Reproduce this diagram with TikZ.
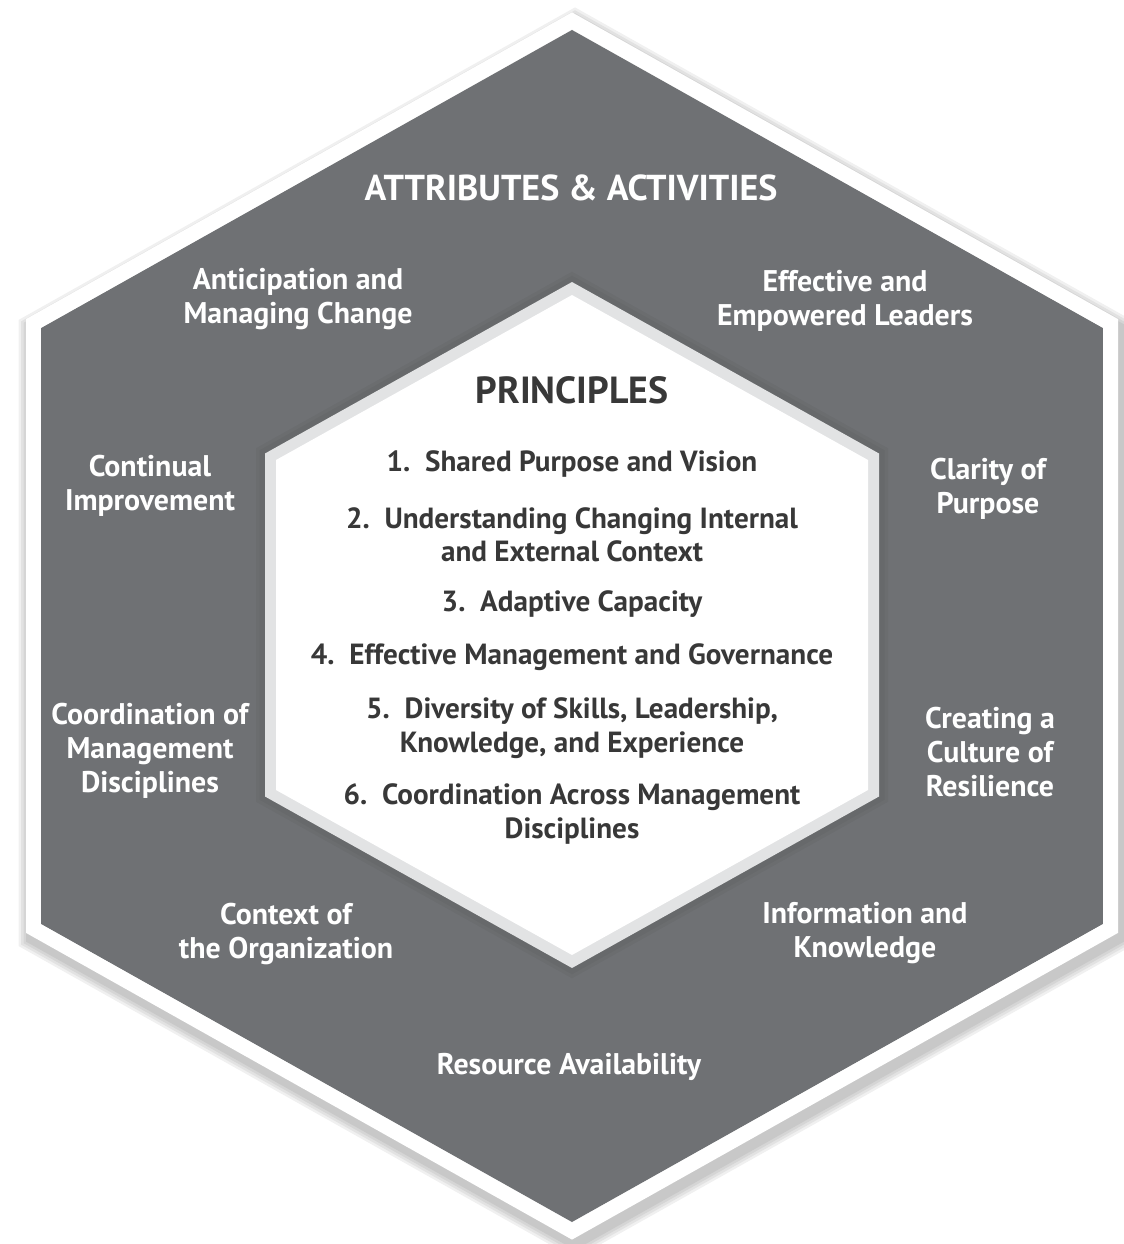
\documentclass[tikz,border=0pt]{standalone}
\usepackage{fontspec}
\setmainfont{PT Sans}

\definecolor{hexgrey}{HTML}{6F7174}
\definecolor{rimgrey}{HTML}{E2E3E4}
\definecolor{inktext}{HTML}{383838}

% hexagon with pointy top, centred on x=572: {centre y}{radius}{half width}
\newcommand{\hexpath}[3]{(572,{#1-#2}) -- ({572+#3},{#1-#2/2}) -- ({572+#3},{#1+#2/2})
  -- (572,{#1+#2}) -- ({572-#3},{#1+#2/2}) -- ({572-#3},{#1-#2/2}) -- cycle}

\tikzset{
    attr/.style={text=white, align=center,
        font=\bfseries\fontsize{17}{19.3}\selectfont},
    princ/.style={text=inktext, align=center,
        font=\bfseries\fontsize{16.6}{19}\selectfont},
    heading/.style={align=center, font=\bfseries\fontsize{20.5}{24}\selectfont}
}

\begin{document}
\begin{tikzpicture}[x=0.02cm, y=-0.02cm]
  \useasboundingbox (0,0) rectangle (1124,1244);

  % frame and its shadow
  \foreach \w in {0.72cm,0.62cm,0.52cm,0.42cm}
    \draw[black, opacity=0.06, line width=\w, line join=miter, shift={(3,7)}]
      \hexpath{626}{605}{538.5};
  \fill[hexgrey] \hexpath{626}{596}{531};
  \draw[white, line width=0.30cm, line join=miter] \hexpath{626}{605}{538.5};

  % inner hexagon
  \foreach \w in {0.36cm,0.22cm}
    \draw[black, opacity=0.035, line width=\w, line join=miter] \hexpath{625}{343}{307};
  \fill[rimgrey] \hexpath{625}{343}{307};
  \fill[white] \hexpath{625}{330}{296};

  \node (attr) [heading, text=white] at (571, 188) {ATTRIBUTES \& ACTIVITIES};
  \node (princ) [heading, text=inktext, font=\bfseries\fontsize{21.5}{24}\selectfont]
    at (572, 390) {PRINCIPLES};

  \node (antic) [attr] at (298, 299) {Anticipation and\\Managing Change};
  \node (leaders) [attr] at (845, 301) {Effective and\\Empowered Leaders};
  \node (contin) [attr] at (150, 486) {Continual\\Improvement};
  \node (clarity) [attr] at (988, 489) {Clarity of\\Purpose};
  \node (coord) [attr] at (150, 751) {Coordination of\\Management\\Disciplines};
  \node (culture) [attr] at (990, 752) {Creating a\\Culture of\\Resilience};
  \node (context) [attr] at (286, 934) {Context of\\the Organization};
  \node (inform) [attr] at (865, 933) {Information and\\Knowledge};
  \node (resource) [attr] at (569, 1067) {Resource Availability};

  \node (p1) [princ] at (572, 464) {1.\ \ Shared Purpose and Vision};
  \node (p2) [princ] at (572, 535) {2.\ \ Understanding Changing Internal\\and External Context};
  \node (p3) [princ] at (572, 604) {3.\ \ Adaptive Capacity};
  \node (p4) [princ] at (572, 657) {4.\ \ Effective Management and Governance};
  \node (p5) [princ] at (572, 728) {5.\ \ Diversity of Skills, Leadership,\\Knowledge, and Experience};
  \node (p6) [princ] at (572, 814) {6.\ \ Coordination Across Management\\Disciplines};

\end{tikzpicture}
\end{document}
